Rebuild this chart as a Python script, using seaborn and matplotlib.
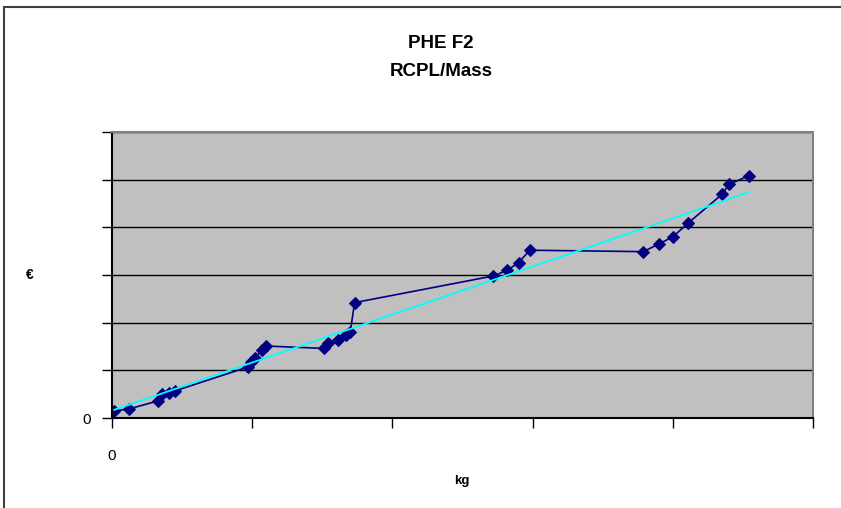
import matplotlib
matplotlib.use('Agg')
import matplotlib.pyplot as plt
from matplotlib.patches import Rectangle
import seaborn as sns
import numpy as np
import pandas as pd

# values (axis units: one gridline / one tick = 1)
mass = [0.014, 0.121, 0.33, 0.36, 0.41, 0.45, 0.97, 0.99, 1.02, 1.07, 1.10,
        1.51, 1.54, 1.61, 1.67, 1.70, 1.73, 2.72, 2.82, 2.90, 2.98,
        3.79, 3.90, 4.00, 4.11, 4.35, 4.40, 4.54]
rcpl = [0.147, 0.19, 0.36, 0.50, 0.53, 0.57, 1.07, 1.17, 1.25, 1.43, 1.51,
        1.46, 1.57, 1.64, 1.74, 1.81, 2.42, 2.98, 3.10, 3.26, 3.52,
        3.49, 3.65, 3.80, 4.09, 4.69, 4.90, 5.08]
x_ticks = [0, 1, 2, 3, 4, 5]
x_tick_labels = ['0', '', '', '', '', '']
y_ticks = [0, 1, 2, 3, 4, 5, 6]
y_tick_labels = ['0', '', '', '', '', '', '']

df = pd.DataFrame({'kg': mass, 'eur': rcpl})

sns.set_style('white')
plt.rcParams['font.family'] = ['Liberation Sans', 'DejaVu Sans']
plt.rcParams['text.color'] = 'black'
plt.rcParams['xtick.color'] = 'black'
plt.rcParams['ytick.color'] = 'black'

fig = plt.figure(figsize=(8.41, 5.08), dpi=100)
ax = fig.add_axes([112 / 841, 1 - 418 / 508, 701 / 841, 286 / 508])
ax.set_facecolor('#c0c0c0')

# outer chart border
fig.patches.append(Rectangle((4 / 841, -0.05), 1.0, 1 - 7 / 508 + 0.05,
                             transform=fig.transFigure, fill=False,
                             edgecolor='#404040', linewidth=1.5))

ax.set_axisbelow(True)
ax.yaxis.grid(True, color='black', linewidth=1)
ax.xaxis.grid(False)

sns.lineplot(data=df, x='kg', y='eur', ax=ax, color='#000080', linewidth=1.2,
             marker='D', markersize=6, markeredgecolor='#000080', sort=False,
             estimator=None)
sns.regplot(data=df, x='kg', y='eur', ax=ax, scatter=False, ci=None,
            truncate=True, line_kws={'color': '#00ffff', 'linewidth': 1.3})

ax.set_xlim(0, 5)
ax.set_ylim(0, 6)
ax.set_xticks(x_ticks)
ax.set_xticklabels(x_tick_labels, fontsize=11)
ax.set_yticks(y_ticks)
ax.set_yticklabels(y_tick_labels, fontsize=11)
ax.tick_params(axis='x', direction='out', length=7, width=1, color='black', pad=15, bottom=True)
ax.tick_params(axis='y', direction='out', length=7, width=1, color='black', pad=8, left=True)

for side in ['top', 'right']:
    ax.spines[side].set_color('#808080')
    ax.spines[side].set_linewidth(1.5)
for side in ['left', 'bottom']:
    ax.spines[side].set_color('black')
    ax.spines[side].set_linewidth(1.5)

ax.set_xlabel('')
ax.set_ylabel('')
fig.text(462 / 841, 1 - 481 / 508, 'kg', ha='center', va='center', fontsize=9.5, fontweight='bold')
fig.text(30 / 841, 1 - 275 / 508, '€', ha='center', va='center', fontsize=10, fontweight='bold')
fig.text(441 / 841, 1 - 43 / 508, 'PHE F2', ha='center', va='center', fontsize=13.5, fontweight='bold')
fig.text(441 / 841, 1 - 72 / 508, 'RCPL/Mass', ha='center', va='center', fontsize=13.5, fontweight='bold')

fig.savefig('out.png', dpi=100)
